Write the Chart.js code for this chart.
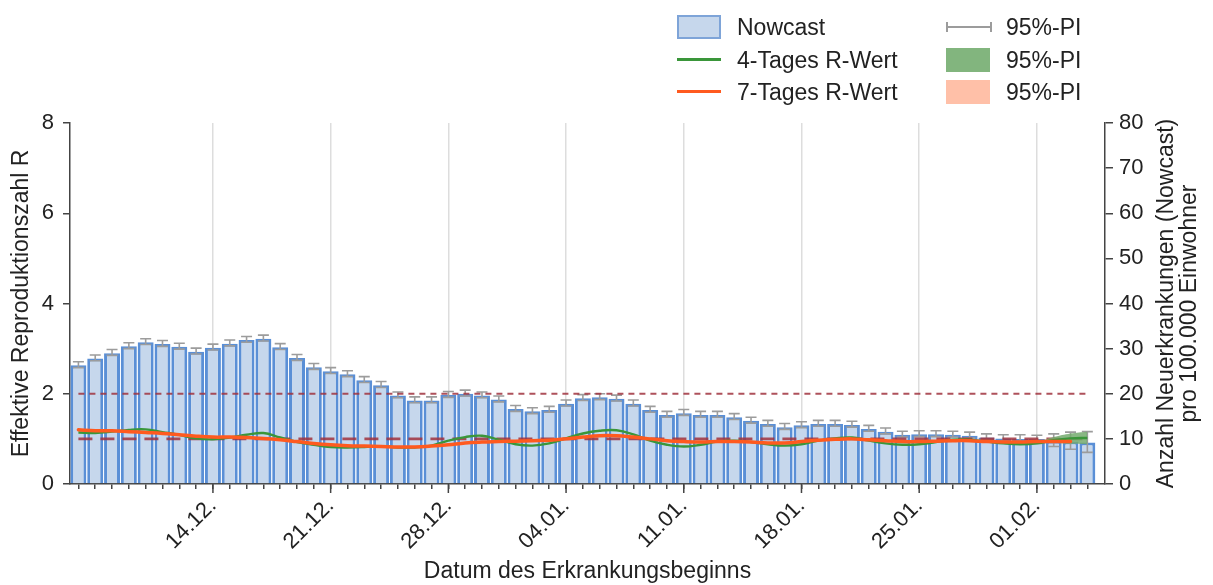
<!DOCTYPE html>
<html>
<head>
<meta charset="utf-8">
<script src="https://cdn.jsdelivr.net/npm/chart.js@4.4.1/dist/chart.umd.min.js"></script>
<style>
    body { margin: 0; background: #fff; font-family: "Liberation Sans", Arial, sans-serif; }
    #wrap { position: relative; width: 1213px; height: 585px; overflow: hidden; }
    #chart { position: absolute; left: 0; top: 0; }
    .lg-icon { position: absolute; box-sizing: border-box; }
    .lg-text { position: absolute; font-size: 23px; line-height: 26px; color: #222; white-space: nowrap; }
</style>
</head>
<body>
<div id="wrap">
    <canvas id="chart" width="1213" height="585"></canvas>
    <div id="legend"></div>
</div>
<script>
// 61 Tage: 06.12. bis 04.02.
const dayCount = 61;
const weekTickIdx = [8, 15, 22, 29, 36, 43, 50, 57];
const weekTickLabels = ['14.12.', '21.12.', '28.12.', '04.01.', '11.01.', '18.01.', '25.01.', '01.02.'];

// Nowcast, Neuerkrankungen pro 100.000 Einwohner (rechte Achse)
const nowcast = [26.3, 27.8, 29.0, 30.5, 31.4, 31.0, 30.4, 29.3, 30.2, 31.1, 31.9, 32.2, 30.3, 27.9, 25.9,
    25.0, 24.3, 23.0, 21.9, 19.6, 18.5, 18.5, 19.7, 20.0, 19.6, 18.7, 16.6, 16.1, 16.4, 17.8,
    19.0, 19.2, 18.9, 17.8, 16.4, 15.3, 15.7, 15.3, 15.3, 14.8, 14.0, 13.3, 12.6, 13.0, 13.3,
    13.3, 13.1, 12.2, 11.6, 10.9, 11.0, 11.0, 10.9, 10.7, 10.3, 10.1, 10.0, 10.0, 9.6, 9.4, 9.2];
const nowcastLow = [25.8, 27.3, 28.5, 30.0, 30.9, 30.5, 29.9, 28.8, 29.7, 30.6, 31.4, 31.7, 29.8, 27.4, 25.4,
    24.5, 23.8, 22.5, 21.4, 19.1, 18.0, 18.0, 19.2, 19.5, 19.1, 18.2, 16.1, 15.6, 15.9, 17.3,
    18.5, 18.7, 18.4, 17.3, 15.9, 14.8, 15.2, 14.8, 14.8, 14.3, 13.5, 12.8, 12.1, 12.5, 12.8,
    12.8, 12.6, 11.7, 11.1, 10.4, 10.5, 10.5, 10.4, 10.2, 9.8, 9.5, 9.4, 9.0, 8.3, 7.7, 7.0];
const nowcastHigh = [27.1, 28.6, 29.8, 31.3, 32.2, 31.8, 31.2, 30.1, 31.0, 31.9, 32.7, 33.0, 31.1, 28.7, 26.7,
    25.8, 25.1, 23.8, 22.7, 20.4, 19.3, 19.3, 20.5, 20.8, 20.4, 19.5, 17.4, 16.9, 17.2, 18.6,
    19.8, 20.0, 19.7, 18.6, 17.2, 16.1, 16.5, 16.1, 16.1, 15.6, 14.8, 14.1, 13.4, 13.8, 14.1,
    14.1, 13.9, 13.0, 12.4, 11.7, 11.8, 11.8, 11.7, 11.5, 11.1, 10.9, 10.9, 10.8, 11.1, 11.5, 11.6];

// R-Werte (linke Achse)
const rWert4 = [1.14, 1.13, 1.16, 1.20, 1.21, 1.15, 1.09, 1.01, 0.99, 1.03,
    1.09, 1.13, 1.03, 0.93, 0.87, 0.82, 0.81, 0.82, 0.84, 0.81,
    0.81, 0.85, 0.96, 1.04, 1.07, 0.98, 0.88, 0.85, 0.90, 1.01,
    1.12, 1.18, 1.19, 1.10, 0.96, 0.87, 0.83, 0.87, 0.94, 0.96,
    0.93, 0.88, 0.85, 0.88, 0.96, 1.01, 1.03, 0.96, 0.90, 0.87,
    0.88, 0.93, 0.98, 0.98, 0.94, 0.90, 0.88, 0.90, 0.97, 1.01, 1.02];
const rWert7 = [1.20, 1.18, 1.18, 1.16, 1.14, 1.12, 1.09, 1.06, 1.04, 1.04,
    1.03, 1.01, 0.98, 0.94, 0.90, 0.87, 0.85, 0.84, 0.83, 0.82,
    0.82, 0.84, 0.87, 0.91, 0.93, 0.94, 0.95, 0.96, 0.97, 1.00,
    1.04, 1.07, 1.07, 1.04, 1.00, 0.96, 0.94, 0.93, 0.94, 0.94,
    0.93, 0.91, 0.91, 0.94, 0.97, 0.99, 1.00, 0.98, 0.96, 0.94,
    0.94, 0.95, 0.96, 0.96, 0.94, 0.93, 0.93, 0.94, 0.94, 0.94];
// 95%-PI des 4-Tages R-Werts, nur am Ende sichtbar
const bandStart = 57;
const rWert4Low = [0.90, 0.91, 0.89, 0.88];
const rWert4High = [0.92, 1.04, 1.12, 1.16];

const rThreshold = 1;
const incidenceThreshold = 20;

const leftTitle = 'Effektive Reproduktionszahl R';
const rightTitle = ['Anzahl Neuerkrankungen (Nowcast)', 'pro 100.000 Einwohner'];
const xTitle = 'Datum des Erkrankungsbeginns';

const FONT = '"Liberation Sans", Arial, sans-serif';
const COLORS = {
    barFill: '#c6d7ec',
    barBorder: '#5a8fd6',
    err: '#9c9c9c',
    green: '#3a963a',
    orange: '#ff5a1f',
    greenBand: 'rgba(116,170,110,0.85)',
    salmon: '#ffc0a8',
    ref: 'rgba(160,50,62,0.85)',
    axis: '#444',
    grid: '#dddddd',
    text: '#222'
};

Chart.defaults.font.family = FONT;
Chart.defaults.color = COLORS.text;

const toPoints = (arr, start = 0) => arr.map((y, i) => ({ x: start + i, y }));

// error bars + longer weekly ticks + right title
const extrasPlugin = {
    id: 'extras',
    afterDatasetDraw(chart, args) {
        if (args.index !== 0) return;
        const { ctx } = chart;
        const xs = chart.scales.x, ys = chart.scales.yRight;
        ctx.save();
        ctx.strokeStyle = COLORS.err;
        ctx.lineWidth = 1.6;
        for (let i = 0; i < nowcast.length; i++) {
            const x = xs.getPixelForValue(i);
            const y1 = ys.getPixelForValue(nowcastLow[i]);
            const y2 = ys.getPixelForValue(nowcastHigh[i]);
            ctx.beginPath();
            ctx.moveTo(x, y1); ctx.lineTo(x, y2);
            ctx.moveTo(x - 5.5, y1); ctx.lineTo(x + 5.5, y1);
            ctx.moveTo(x - 5.5, y2); ctx.lineTo(x + 5.5, y2);
            ctx.stroke();
        }
        ctx.restore();
    },
    afterDraw(chart) {
        const { ctx, chartArea } = chart;
        const xs = chart.scales.x;
        ctx.save();
        ctx.strokeStyle = COLORS.axis;
        ctx.lineWidth = 1.5;
        weekTickIdx.forEach(i => {
            const x = xs.getPixelForValue(i);
            ctx.beginPath();
            ctx.moveTo(x, chartArea.bottom);
            ctx.lineTo(x, chartArea.bottom + 9);
            ctx.stroke();
        });
        ctx.translate(1167, (chartArea.top + chartArea.bottom) / 2);
        ctx.rotate(-Math.PI / 2);
        ctx.font = `23px ${FONT}`;
        ctx.fillStyle = COLORS.text;
        ctx.textAlign = 'center';
        ctx.textBaseline = 'middle';
        ctx.fillText(rightTitle[0], 0, 0);
        ctx.fillText(rightTitle[1], 0, 23);
        ctx.restore();
    }
};

new Chart(document.getElementById('chart'), {
    type: 'bar',
    data: {
        datasets: [
            {
                type: 'bar',
                label: 'Nowcast',
                data: toPoints(nowcast),
                yAxisID: 'yRight',
                backgroundColor: COLORS.barFill,
                borderColor: COLORS.barBorder,
                borderWidth: 3,
                barPercentage: 0.95,
                categoryPercentage: 1,
                order: 10
            },
            {
                type: 'line',
                label: 'R = 1',
                data: [{ x: 0, y: rThreshold }, { x: dayCount - 1, y: rThreshold }],
                yAxisID: 'yLeft',
                borderColor: COLORS.ref,
                borderWidth: 2.8,
                borderDash: [14, 8],
                pointRadius: 0,
                order: 6
            },
            {
                type: 'line',
                label: 'Inzidenz 20',
                data: [{ x: 0, y: incidenceThreshold }, { x: dayCount - 1, y: incidenceThreshold }],
                yAxisID: 'yRight',
                borderColor: COLORS.ref,
                borderWidth: 2,
                borderDash: [6, 5],
                pointRadius: 0,
                order: 6
            },
            {
                type: 'line',
                label: 'PI low',
                data: toPoints(rWert4Low, bandStart),
                yAxisID: 'yLeft',
                borderWidth: 0,
                pointRadius: 0,
                tension: 0.4,
                fill: false,
                order: 5
            },
            {
                type: 'line',
                label: '95%-PI',
                data: toPoints(rWert4High, bandStart),
                yAxisID: 'yLeft',
                borderWidth: 0,
                pointRadius: 0,
                tension: 0.4,
                backgroundColor: COLORS.greenBand,
                fill: '-1',
                order: 5
            },
            {
                type: 'line',
                label: '4-Tages R-Wert',
                data: toPoints(rWert4),
                yAxisID: 'yLeft',
                borderColor: COLORS.green,
                borderWidth: 2.4,
                pointRadius: 0,
                tension: 0.4,
                order: 2
            },
            {
                type: 'line',
                label: '7-Tages R-Wert',
                data: toPoints(rWert7),
                yAxisID: 'yLeft',
                borderColor: COLORS.orange,
                borderWidth: 3.5,
                borderCapStyle: 'round',
                pointRadius: 0,
                tension: 0.4,
                order: 1
            }
        ]
    },
    options: {
        responsive: false,
        animation: false,
        devicePixelRatio: 1,
        layout: { padding: { top: 123, left: 0, right: 0, bottom: 0 } },
        plugins: { legend: { display: false }, tooltip: { enabled: false } },
        scales: {
            x: {
                type: 'linear',
                min: -0.5,
                max: 61.05,
                offset: false,
                afterBuildTicks: (scale) => {
                    scale.ticks = Array.from({ length: dayCount }, (_, i) => ({ value: i }));
                },
                afterFit: (scale) => { scale.height = 101; },
                ticks: {
                    autoSkip: false,
                    maxRotation: 45,
                    minRotation: 45,
                    padding: 4,
                    font: { size: 22 },
                    color: COLORS.text,
                    callback: (v) => {
                        const k = weekTickIdx.indexOf(v);
                        return k >= 0 ? weekTickLabels[k] : '';
                    }
                },
                grid: {
                    offset: false,
                    color: (c) => (c.tick && weekTickIdx.includes(c.tick.value)) ? COLORS.grid : 'transparent',
                    lineWidth: 1.5,
                    tickColor: COLORS.axis,
                    tickLength: 5
                },
                border: { color: COLORS.axis, width: 1.5 },
                title: { display: true, text: xTitle, font: { size: 23 }, padding: 0, color: COLORS.text }
            },
            yLeft: {
                type: 'linear',
                position: 'left',
                min: 0,
                max: 8,
                afterFit: (scale) => { scale.width = 70; },
                ticks: { stepSize: 2, padding: 9, font: { size: 22 }, color: COLORS.text },
                grid: { drawOnChartArea: false, tickLength: 7, color: COLORS.axis, lineWidth: 1.5 },
                border: { color: COLORS.axis, width: 1.5 },
                title: { display: true, text: leftTitle, font: { size: 23 }, padding: { top: 8, bottom: 0 }, color: COLORS.text }
            },
            yRight: {
                type: 'linear',
                position: 'right',
                min: 0,
                max: 80,
                afterFit: (scale) => { scale.width = 108; },
                ticks: { stepSize: 10, padding: 6, font: { size: 22 }, color: COLORS.text },
                grid: { drawOnChartArea: false, tickLength: 8, color: COLORS.axis, lineWidth: 1.5 },
                border: { color: COLORS.axis, width: 1.5 }
            }
        }
    },
    plugins: [extrasPlugin]
});

// legend, two columns
const legendItems = [
    { icon: 'box', fill: COLORS.barFill, border: '#7ea4d8', text: 'Nowcast', x: 677, y: 14 },
    { icon: 'line', color: COLORS.green, text: '4-Tages R-Wert', x: 677, y: 47 },
    { icon: 'line', color: COLORS.orange, text: '7-Tages R-Wert', x: 677, y: 79 },
    { icon: 'err', color: COLORS.err, text: '95%-PI', x: 946, y: 14 },
    { icon: 'box', fill: '#82b57e', border: '#82b57e', text: '95%-PI', x: 946, y: 47 },
    { icon: 'box', fill: COLORS.salmon, border: COLORS.salmon, text: '95%-PI', x: 946, y: 79 }
];

function legendIcon(item) {
    const cy = item.y + 12.5;
    if (item.icon === 'box') {
        return `<div class="lg-icon" style="left:${item.x}px;top:${cy - 12}px;width:44px;height:24px;background:${item.fill};border:2px solid ${item.border}"></div>`;
    }
    if (item.icon === 'line') {
        return `<div class="lg-icon" style="left:${item.x}px;top:${cy - 1.5}px;width:44px;height:3px;background:${item.color}"></div>`;
    }
    return `
        <div class="lg-icon" style="left:${item.x}px;top:${cy - 1}px;width:46px;height:2px;background:${item.color}"></div>
        <div class="lg-icon" style="left:${item.x}px;top:${cy - 5}px;width:2px;height:10px;background:${item.color}"></div>
        <div class="lg-icon" style="left:${item.x + 44}px;top:${cy - 5}px;width:2px;height:10px;background:${item.color}"></div>`;
}

document.getElementById('legend').innerHTML = legendItems.map(item => `
    ${legendIcon(item)}
    <div class="lg-text" style="left:${item.x + 60}px;top:${item.y}px">${item.text}</div>
`).join('');
</script>
</body>
</html>
